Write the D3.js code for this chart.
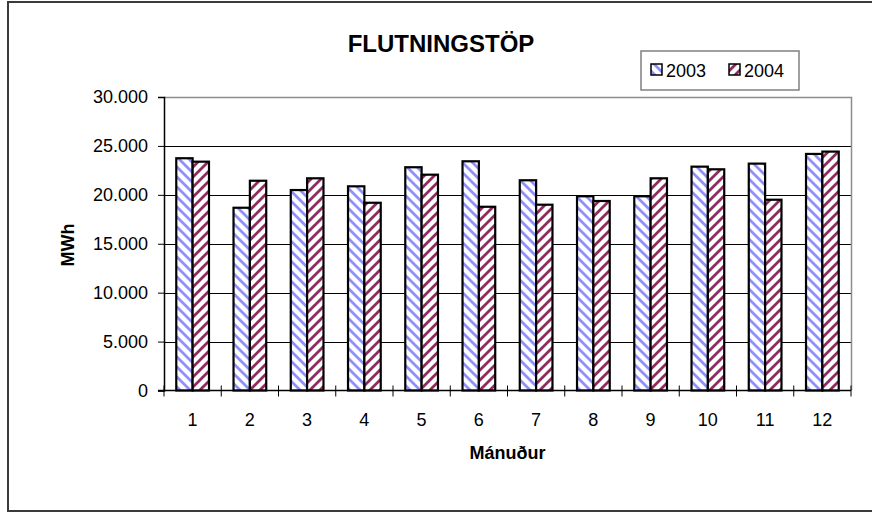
<!DOCTYPE html>
<html><head><meta charset="utf-8">
<script src="https://cdn.jsdelivr.net/npm/d3@7/dist/d3.min.js"></script>
<style>body{margin:0;background:#fff}svg{display:block;font-family:"Liberation Sans",Arial,sans-serif}</style>
</head><body><svg id="c" width="872" height="514"></svg>
<script>
const months = ["1","2","3","4","5","6","7","8","9","10","11","12"];
const seriesNames = ["2003","2004"];
const values2003 = [23740,18680,20490,20870,22820,23430,21490,19850,19850,22880,23190,24180];
const values2004 = [23390,21440,21690,19190,22060,18780,18990,19370,21690,22610,19500,24420];
const yTicks = [0,5000,10000,15000,20000,25000,30000];
const yTickLabels = ["0","5.000","10.000","15.000","20.000","25.000","30.000"];
const title = "FLUTNINGSTÖP", xTitle = "Mánuður", yTitle = "MWh";

const svg = d3.select("#c");
const L = 164, R = 851, T = 97, B = 390.5;
const defs = svg.append("defs");
function pat(id, color, dir){
  const s = 10;
  const p = defs.append("pattern").attr("id", id).attr("patternUnits","userSpaceOnUse")
    .attr("width",s).attr("height",s);
  p.append("rect").attr("width",s).attr("height",s).attr("fill","#fff");
  const d = dir > 0 ? `M-3,-3L${s+3},${s+3}M-3,${s-3}L3,${s+3}M${s-3},-3L${s+3},3`
                    : `M-3,${s+3}L${s+3},-3M-3,3L3,-3M${s-3},${s+3}L${s+3},${s-3}`;
  p.append("path").attr("d", d).attr("stroke", color).attr("stroke-width", 2.8);
}
pat("p2003", "#8f8fff", 1);
pat("p2004", "#8e2c60", -1);
const fills = ["url(#p2003)","url(#p2004)"];

// outer frame
svg.append("rect").attr("x",8).attr("y",2).attr("width",880).attr("height",509)
  .attr("fill","none").attr("stroke","#3a3a3a").attr("stroke-width",2);

const x = d3.scaleBand().domain(months).range([L,R]).paddingInner(0.4286).paddingOuter(0.2143);
const x0 = d3.scaleBand().domain(months).range([L,R]);
const xs = d3.scaleBand().domain(seriesNames).range([0,x.bandwidth()]);
const y = d3.scaleLinear().domain([0,30000]).range([B,T]);

// gridlines
svg.append("g").selectAll("line").data(yTicks.slice(1,-1)).join("line")
  .attr("x1",L).attr("x2",R).attr("y1",d=>Math.round(y(d))+0.5).attr("y2",d=>Math.round(y(d))+0.5)
  .attr("stroke","#000").attr("stroke-width",1);
// plot border top/right
svg.append("path").attr("d",`M${L},${T+0.5}H${R+0.5}V${B}`).attr("fill","none").attr("stroke","#8c8c8c").attr("stroke-width",1.5);

// bars
const data = months.map((m,i)=>({m, v:[values2003[i], values2004[i]]}));
const g = svg.append("g");
data.forEach(d=>{
  d.v.forEach((v,j)=>{
    g.append("rect").attr("x", x(d.m)+xs(seriesNames[j])).attr("width", xs.bandwidth())
      .attr("y", y(v)).attr("height", B - y(v))
      .attr("fill", fills[j]).attr("stroke","#000").attr("stroke-width",2.2);
  });
});

// y axis
const ya = svg.append("g").attr("transform",`translate(${L},0)`)
  .call(d3.axisLeft(y).tickValues(yTicks).tickFormat((d,i)=>yTickLabels[i]).tickSize(6).tickPadding(10));
ya.select(".domain").attr("stroke","#000").attr("stroke-width",1.5);
ya.selectAll(".tick line").attr("stroke","#000");
ya.selectAll("text").attr("font-size",18).attr("fill","#000").attr("font-family","Liberation Sans, Arial");

// x axis
svg.append("line").attr("x1",L-6).attr("x2",R).attr("y1",B).attr("y2",B).attr("stroke","#000").attr("stroke-width",1.5);
const bounds = months.map(m=>x0(m)).concat([R]);
svg.append("g").selectAll("line").data(bounds).join("line")
  .attr("x1",d=>d).attr("x2",d=>d).attr("y1",B-5).attr("y2",B+6).attr("stroke","#000").attr("stroke-width",1);
svg.append("g").selectAll("text").data(months).join("text")
  .attr("x",d=>x0(d)+x0.bandwidth()/2).attr("y",426).attr("text-anchor","middle")
  .attr("font-size",18).text(d=>d);

// titles
svg.append("text").attr("x",441).attr("y",52).attr("text-anchor","middle").attr("font-weight","bold")
  .attr("font-size",24).text(title);
svg.append("text").attr("x",(L+R)/2).attr("y",459).attr("text-anchor","middle").attr("font-weight","bold")
  .attr("font-size",18).text(xTitle);
svg.append("text").attr("transform","translate(74,245) rotate(-90)").attr("text-anchor","middle").attr("font-weight","bold")
  .attr("font-size",18).text(yTitle);

// legend
const lg = svg.append("g");
lg.append("rect").attr("x",641).attr("y",51).attr("width",158).attr("height",39)
  .attr("fill","#fff").attr("stroke","#808080").attr("stroke-width",1.5);
seriesNames.forEach((s,j)=>{
  const lx = 651 + j*78;
  lg.append("rect").attr("x",lx).attr("y",64).attr("width",11).attr("height",11)
    .attr("fill",fills[j]).attr("stroke","#000").attr("stroke-width",1.5);
  lg.append("text").attr("x",lx+15).attr("y",77).attr("font-size",18).text(s);
});
</script></body></html>
